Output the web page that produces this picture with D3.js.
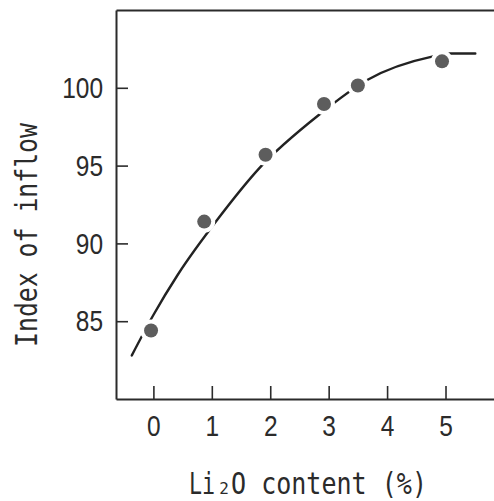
<!DOCTYPE html>
<html>
<head>
<meta charset="utf-8">
<script src="https://cdn.jsdelivr.net/npm/d3@7"></script>
<style>
body { margin:0; background:#fff; }
svg { display:block; }
</style>
</head>
<body>
<svg></svg>
<script>
// measured points (Li2O %, index of inflow)
var pointX = [-0.04, 0.87, 1.92, 2.92, 3.5, 4.94];
var pointY = [84.4, 91.4, 95.7, 98.96, 100.15, 101.7];

// fitted curve
var curveX = [-0.37, 0.0, 0.42, 1.09, 1.83, 2.83, 3.66, 4.77, 5.08, 5.51];
var curveY = [82.8, 85.4, 88.0, 91.5, 94.9, 98.25, 100.5, 102.0, 102.2, 102.2];

var xTicks = [0, 1, 2, 3, 4, 5];
var yTicks = [85, 90, 95, 100];

var xTitle = "O content (%)";
var yTitle = "Index of inflow";

function drawChart() {
var svgWidth = 494, svgHeight = 501;

var svg = d3.select('svg')
	.attr("width", svgWidth)
	.attr("height", svgHeight);

var x = d3.scaleLinear()
	.domain([-0.64, 5.83])
	.range([116, 494]);

var y = d3.scaleLinear()
	.domain([80, 105])
	.range([399, 10]);

var tickFont = "'Liberation Sans Narrow', 'Arial Narrow', 'Liberation Sans', sans-serif";
var titleFont = "'DejaVu Sans Mono', 'Liberation Mono', monospace";
var ink = "#2b2b2b";

// bottom axis, ticks pointing in
svg.append("g")
	.attr("transform", "translate(0," + y(80) + ")")
	.call(d3.axisBottom(x).tickValues(xTicks).tickSizeInner(-13).tickSizeOuter(0).tickPadding(16).tickFormat(d3.format("d")));

// left axis
svg.append("g")
	.attr("transform", "translate(" + x(-0.64) + ",0)")
	.call(d3.axisLeft(y).tickValues(yTicks).tickSizeInner(-12).tickSizeOuter(0).tickPadding(13).tickFormat(d3.format("d")));

// top border
svg.append("g")
	.attr("transform", "translate(0," + y(105) + ")")
	.call(d3.axisTop(x).tickValues([]).tickSizeOuter(0));

svg.selectAll(".domain")
	.attr("stroke", ink)
	.attr("stroke-width", 2);
svg.selectAll(".tick line")
	.attr("stroke", ink)
	.attr("stroke-width", 1.6);
// narrow digits like the original print
svg.selectAll(".tick text")
	.attr("fill", ink)
	.attr("font-family", tickFont)
	.attr("font-size", 30)
	.attr("textLength", function() { return this.textContent.length * 13.6; })
	.attr("lengthAdjust", "spacingAndGlyphs");

// curve
var line = d3.line()
	.x(function(d) { return x(d[0]); })
	.y(function(d) { return y(d[1]); })
	.curve(d3.curveMonotoneX);

svg.append("path")
	.datum(d3.zip(curveX, curveY))
	.attr("fill", "none")
	.attr("stroke", "#222")
	.attr("stroke-width", 2.4)
	.attr("stroke-linecap", "round")
	.attr("d", line);

// points, white ring breaks the line
svg.selectAll(".pt")
	.data(d3.zip(pointX, pointY))
	.enter().append("circle")
	.attr("class", "pt")
	.attr("cx", function(d) { return x(d[0]); })
	.attr("cy", function(d) { return y(d[1]); })
	.attr("r", 7)
	.attr("fill", "#5d5d5d")
	.attr("stroke", "#fff")
	.attr("stroke-width", 8)
	.attr("paint-order", "stroke");

// x title: Li, subscript 2, rest (squeezed mono face)
var tb = 494;
svg.append("text")
	.attr("transform", "translate(189," + tb + ") scale(0.7,1)")
	.attr("font-family", titleFont).attr("font-size", 31).attr("fill", ink)
	.text("Li");
svg.append("text")
	.attr("transform", "translate(224," + tb + ")")
	.attr("text-anchor", "middle")
	.attr("font-family", titleFont).attr("font-size", 16).attr("fill", ink)
	.text("2");
svg.append("text")
	.attr("transform", "translate(231," + tb + ") scale(0.808,1)")
	.attr("font-family", titleFont).attr("font-size", 31).attr("fill", ink)
	.text(xTitle);

svg.append("text")
	.attr("transform", "translate(36.5,235) rotate(-90) scale(0.8,1)")
	.attr("text-anchor", "middle")
	.attr("font-family", titleFont)
	.attr("font-size", 31)
	.attr("fill", ink)
	.text(yTitle);
}

drawChart();
</script>
</body>
</html>
